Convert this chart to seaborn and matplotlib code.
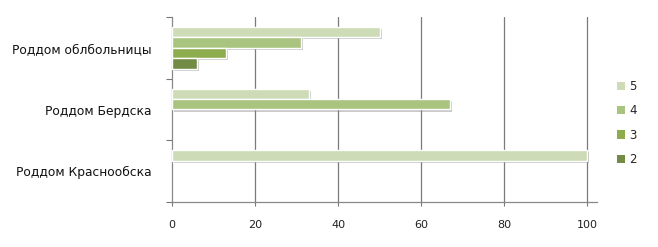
import matplotlib
matplotlib.use("Agg")
import matplotlib.pyplot as plt
import matplotlib.patheffects as pe
from matplotlib.patches import Patch
import seaborn as sns
import pandas as pd

categories = ["Роддом облбольницы", "Роддом Бердска", "Роддом Краснообска"]
grades = ["5", "4", "3", "2"]
vals_5 = [50, 33, 100]
vals_4 = [31, 67, 0]
vals_3 = [13, 0, 0]
vals_2 = [6, 0, 0]
xticks = [0, 20, 40, 60, 80, 100]
colors = ["#cddbb6", "#a9c47e", "#8dac4e", "#728b45"]

rows = []
for g, vals in zip(grades, [vals_5, vals_4, vals_3, vals_2]):
    for c, v in zip(categories, vals):
        rows.append({"cat": c, "grade": g, "val": v})
df = pd.DataFrame(rows)

sns.set_style("white")
plt.rcParams['font.family'] = ['DejaVu Sans']

fig = plt.figure(figsize=(6.58, 2.47), dpi=100)
ax = fig.add_axes([172/658, 1-202/247, (597-172)/658, (202-17)/247])

sns.barplot(data=df, y="cat", x="val", hue="grade", order=categories,
            hue_order=grades, palette=colors, saturation=1, orient="h", width=0.68,
            edgecolor="white", linewidth=1.0, ax=ax, legend=False, zorder=3)

for p in ax.patches:
    if p.get_width() == 0:
        p.set_visible(False)
        continue
    p.set_path_effects([pe.SimplePatchShadow(offset=(1.5, -1.5), shadow_rgbFace="#888888", alpha=0.45), pe.Normal()])

ax.set_xlim(0, 102.4)
ax.set_ylim(2.5, -0.5)
ax.set_xticks(xticks)
ax.set_xticklabels([str(t) for t in xticks], fontsize=8, color="#222222")
ax.set_yticks(range(len(categories)))
ax.set_yticklabels(categories, fontsize=8.8, color="#111111")
ax.set_yticks([-0.5, 0.5, 1.5, 2.5], minor=True)
ax.tick_params(axis="y", which="major", length=0, pad=15)
ax.tick_params(axis="y", which="minor", length=4, width=0.8, color="#777777", direction="out", left=True)
ax.tick_params(axis="x", which="major", length=3, width=0.8, color="#777777", direction="out", bottom=True, pad=10)
ax.set_xlabel("")
ax.set_ylabel("")

for t in xticks[1:]:
    ax.axvline(t, color="#7a7a7a", linewidth=0.9, zorder=1)

for s in ["top", "right"]:
    ax.spines[s].set_visible(False)
for s in ["left", "bottom"]:
    ax.spines[s].set_color("#888888")
    ax.spines[s].set_linewidth(0.9)

handles = [Patch(facecolor=c, edgecolor="none") for c in colors]
fig.legend(handles, grades, loc="center left", bbox_to_anchor=(606/658, 1-123/247),
           frameon=False, fontsize=8.5, handlelength=0.7, handleheight=0.7,
           handletextpad=0.4, labelspacing=0.95)

fig.savefig("out.png", dpi=100, facecolor="white")
